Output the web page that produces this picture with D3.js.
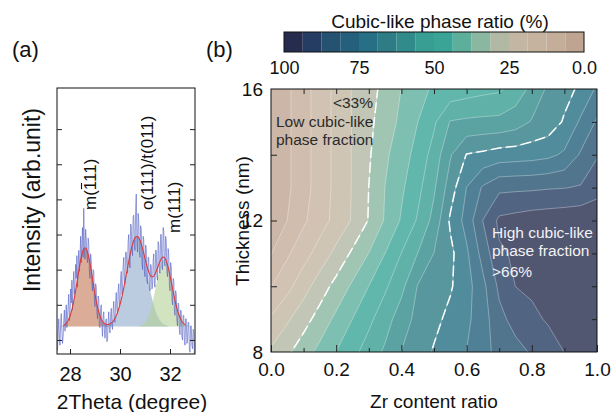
<!DOCTYPE html>
<html>
<head>
<meta charset="utf-8">
<script src="https://cdn.jsdelivr.net/npm/d3@7"></script>
<style>
  body { margin: 0; background: #fff; }
</style>
</head>
<body>
<svg id="chart" width="612" height="412"></svg>
<script>
// ---------------- data ----------------
// (a) XRD scan (2theta from 27.500 in 0.025 deg steps)
const theta0 = 27.5;
const thetaStep = 0.025;
const intensity = [
  0.70, 1.20, 1.60, 1.05, 0.85, 1.45, 1.75, 1.30, 0.90, 1.10,
  1.55, 1.85, 1.25, 1.60, 2.00, 1.35, 1.70, 1.95, 2.30, 1.55,
  1.75, 2.45, 2.05, 2.70, 1.85, 2.55, 2.95, 2.30, 2.55, 3.15,
  2.75, 3.40, 2.50, 3.05, 3.55, 2.95, 3.30, 3.95, 3.20, 3.75,
  4.20, 3.35, 4.75, 3.60, 3.30, 4.15, 3.85, 3.40, 3.20, 3.90,
  3.75, 2.95, 2.75, 3.45, 3.25, 2.60, 2.40, 3.00, 2.95, 2.15,
  1.95, 2.60, 2.50, 1.80, 1.60, 2.25, 2.15, 1.40, 1.35, 1.90,
  2.00, 1.45, 1.10, 1.65, 1.80, 1.30, 1.05, 1.50, 1.60, 0.95,
  1.00, 1.55, 1.80, 1.30, 1.20, 1.65, 1.90, 1.40, 1.30, 1.85,
  2.10, 1.60, 1.50, 2.05, 2.35, 1.85, 1.75, 2.40, 2.60, 2.00,
  2.05, 2.75, 2.95, 2.30, 2.35, 3.10, 3.35, 2.70, 2.60, 3.50,
  3.50, 3.05, 2.90, 3.80, 4.00, 3.25, 3.05, 4.30, 4.25, 3.55,
  3.40, 4.50, 4.55, 3.70, 3.55, 4.65, 5.15, 3.80, 3.50, 4.60,
  4.40, 3.55, 3.35, 4.25, 4.15, 3.25, 3.00, 3.95, 3.85, 2.95,
  2.80, 3.70, 3.60, 2.70, 2.60, 3.35, 3.35, 2.50, 2.40, 3.15,
  3.10, 2.45, 2.50, 3.25, 3.45, 2.60, 2.50, 3.55, 3.55, 2.80,
  2.70, 3.80, 3.70, 2.95, 2.90, 4.00, 4.00, 3.10, 3.00, 4.20,
  4.10, 3.20, 3.10, 3.95, 3.80, 2.95, 2.80, 3.60, 3.45, 2.60,
  2.40, 3.20, 3.05, 2.20, 2.00, 2.75, 2.70, 1.85, 1.70, 2.40,
  2.30, 1.55, 1.40, 2.05, 2.00, 1.30, 1.15, 1.85, 1.80, 1.10,
  1.00, 1.70, 1.70, 0.95, 0.85, 1.60, 1.60, 0.90, 0.95, 1.50,
  1.50, 0.75, 0.65, 1.40, 1.40, 0.85, 0.75, 1.30, 1.25, 0.60
];
// fitted peaks
const peakLabels = ["m(111)", "o(111)/t(011)", "m(111)"];
const peakCentre = [28.6, 30.67, 31.76];
const peakAmp = [2.24, 2.56, 1.91];
const peakWidth = [0.3, 0.4, 0.32];
const peakFill = ["#cf9275", "#8da8cc", "#b3d195"];
const fitBaseline = 1.38;
const fitRange = [27.75, 32.6];

// (b) cubic-like phase ratio (%) on a Zr ratio x thickness grid
const zrRatio = [0, 0.05, 0.1, 0.15, 0.2, 0.25, 0.3, 0.35, 0.4, 0.45, 0.5,
                 0.55, 0.6, 0.65, 0.7, 0.75, 0.8, 0.85, 0.9, 0.95, 1.0];
const thickness = [8, 9, 10, 11, 12, 13, 14, 15, 16];
const ratio8  = [26, 30.1, 34.7, 39.3, 43.8, 48.2, 52.7, 57.3, 62.6, 66.0, 69.3, 72.2, 75.1, 79.8, 82.6, 85.5, 88.1, 90.9, 93.8, 95.4, 97];
const ratio9  = [19.5, 24.1, 28.8, 33.8, 38.9, 43.8, 48.6, 53.5, 59.5, 64.3, 67.2, 70.3, 73.7, 78.4, 85.7, 89.7, 92.4, 94.4, 95.6, 96.8, 98];
const ratio10 = [12.3, 16.9, 22.5, 28.1, 33.3, 38.5, 43.8, 49.0, 54.5, 62.8, 65.4, 68.1, 72.5, 79.5, 88.8, 93.8, 94.8, 95.9, 96.9, 98.0, 99];
const ratio11 = [6, 11.6, 16.4, 21.3, 26.7, 32.3, 37.6, 43.8, 50.1, 56.3, 62.6, 67.2, 73.9, 83.6, 92.9, 94.5, 95.4, 96.3, 97.2, 98.1, 99];
const ratio12 = [1, 6.3, 11.5, 16.1, 20.7, 25.6, 31.6, 38.1, 44.4, 50.7, 58.3, 69.7, 77.3, 87.6, 95, 96, 97, 97.5, 98, 98.5, 99];
const ratio13 = [0, 5.1, 10.2, 15.3, 20.4, 25.4, 31.3, 37.6, 42.7, 48.2, 55.3, 65.6, 75.1, 82, 86, 86.3, 86.5, 87, 87.3, 88, 91];
const ratio14 = [0, 5.1, 10.2, 15.3, 20.4, 25.4, 30.5, 36.3, 41.1, 45.8, 52.5, 61.9, 69.0, 70.1, 71.5, 72, 72.5, 73.5, 76, 82, 87];
const ratio15 = [0, 5.1, 10.2, 15.3, 20.4, 25.3, 29.8, 34.3, 38.9, 43.7, 49.0, 56.6, 57.4, 57.8, 58.0, 59.5, 63, 65, 69.5, 76, 82];
const ratio16 = [0, 5.1, 10.2, 15.3, 20.4, 25.4, 29.1, 33.0, 37.6, 42.0, 44.5, 45.8, 47.0, 48.2, 49.0, 52.7, 57.8, 63.6, 66.5, 70.0, 76];
const cubicRatio = [ratio8, ratio9, ratio10, ratio11, ratio12, ratio13, ratio14, ratio15, ratio16];

const levelStep = 6.25;
// colour of each 6.25 % band, from 0 % up to 100 %
const levelColors = ["#bea491", "#c4ad99", "#c5b3a0", "#c3b6a2", "#b1b8a4", "#8ab7a0",
                     "#5daf9c", "#3aa597", "#389d92", "#328b8b", "#2e7d86", "#266f84",
                     "#24607c", "#245270", "#253d63", "#262c4e"];
const dashedLevels = [31.25, 68.75];
const barTicks = [100, 75, 50, 25, 0];
const zrTicks = [0, 0.2, 0.4, 0.6, 0.8, 1.0];
const thickTicks = [8, 12, 16];

// ---------------- drawing ----------------
const FONT = "'Liberation Sans', Arial, Helvetica, sans-serif";
const svg = d3.select("#chart").attr("font-family", FONT);

function tidy(g, size) {
  g.select(".domain").remove();
  g.selectAll("text").attr("font-size", size).attr("font-family", FONT).attr("fill", "#111");
  g.selectAll(".tick line").attr("stroke", "#222");
}

// ===== panel (a) =====
const xA = d3.scaleLinear().domain([27.48, 33.0]).range([57, 195]);
const yA = d3.scaleLinear().domain([0.6, 8.17]).range([354, 88]);

const gauss = (t, i) => peakAmp[i] * Math.exp(-0.5 * Math.pow((t - peakCentre[i]) / peakWidth[i], 2));
const aPanel = svg.append("g");

peakCentre.forEach((c, i) => {
  const ts = d3.range(c - 3.2 * peakWidth[i], c + 3.2 * peakWidth[i], 0.01);
  aPanel.append("path")
    .datum(ts)
    .attr("fill", peakFill[i])
    .attr("fill-opacity", i === 0 ? 0.75 : 0.6)
    .attr("d", d3.area()
      .x(t => xA(t))
      .y0(yA(fitBaseline))
      .y1(t => yA(fitBaseline + gauss(t, i))));
});

const scan = intensity.map((v, i) => [theta0 + i * thetaStep, v]);
aPanel.append("path")
  .datum(scan)
  .attr("fill", "none")
  .attr("stroke", "#4d5cc0")
  .attr("stroke-opacity", 0.85)
  .attr("stroke-width", 0.7)
  .attr("d", d3.line().x(d => xA(d[0])).y(d => yA(d[1])));

const fitTs = d3.range(fitRange[0], fitRange[1] + 0.001, 0.01);
aPanel.append("path")
  .datum(fitTs)
  .attr("fill", "none")
  .attr("stroke", "#d83a3a")
  .attr("stroke-width", 1.1)
  .attr("d", d3.line()
    .x(t => xA(t))
    .y(t => yA(fitBaseline + d3.sum(peakCentre, (c, i) => gauss(t, i)))));

aPanel.append("rect")
  .attr("x", 57).attr("y", 88).attr("width", 138).attr("height", 266)
  .attr("fill", "none").attr("stroke", "#111").attr("stroke-width", 1);

aPanel.append("g").attr("transform", "translate(0,354)")
  .call(d3.axisBottom(xA).tickValues([28, 30, 32]).tickFormat(d3.format("d"))
    .tickSizeInner(-5).tickSizeOuter(0).tickPadding(12.5))
  .call(g => tidy(g, 20));
aPanel.append("g").attr("transform", "translate(57,0)")
  .call(d3.axisLeft(yA).tickValues(d3.range(1, 8)).tickSizeInner(-5).tickSizeOuter(0).tickFormat(""))
  .call(g => tidy(g, 10));
aPanel.append("g").attr("transform", "translate(195,0)")
  .call(d3.axisRight(yA).tickValues(d3.range(1, 8)).tickSizeInner(-5).tickSizeOuter(0).tickFormat(""))
  .call(g => tidy(g, 10));

// peak labels (rotated); the first one gets a bar over its first "1"
const labelPos = [[96, 210], [153, 210], [180, 233]];
peakLabels.forEach((txt, i) => {
  const g = aPanel.append("g")
    .attr("transform", `translate(${labelPos[i][0]},${labelPos[i][1]}) rotate(-90)`);
  const t = g.append("text").attr("font-size", 17).attr("fill", "#111").text(txt);
  if (i === 0) {
    const x0 = t.node().getSubStringLength(0, 2);
    const x1 = t.node().getSubStringLength(0, 3);
    g.append("line").attr("x1", x0 + 1).attr("x2", x1 - 1)
      .attr("y1", -14.5).attr("y2", -14.5)
      .attr("stroke", "#111").attr("stroke-width", 1.1);
  }
});

aPanel.append("text").attr("transform", "translate(40,200) rotate(-90)")
  .attr("text-anchor", "middle").attr("font-size", 23).attr("fill", "#111")
  .text("Intensity (arb.unit)");
aPanel.append("text").attr("x", 132).attr("y", 409)
  .attr("text-anchor", "middle").attr("font-size", 21).attr("fill", "#111")
  .text("2Theta (degree)");
svg.append("text").attr("x", 12).attr("y", 57).attr("font-size", 22).attr("fill", "#111").text("(a)");
svg.append("text").attr("x", 206).attr("y", 57).attr("font-size", 22).attr("fill", "#111").text("(b)");

// ===== panel (b) =====
const B = {left: 271, right: 597, top: 89, bottom: 352};
const xB = d3.scaleLinear().domain([0, 1]).range([B.left, B.right]);
const yB = d3.scaleLinear().domain([8, 16]).range([B.bottom, B.top]);

svg.append("defs").append("clipPath").attr("id", "clipB")
  .append("rect").attr("x", B.left).attr("y", B.top)
  .attr("width", B.right - B.left).attr("height", B.bottom - B.top);

const nx = zrRatio.length, ny = thickness.length;
const thresholds = levelColors.map((c, k) => k * levelStep);
const bands = d3.contours().size([nx, ny]).thresholds(thresholds)(cubicRatio.flat());
const zStep = zrRatio[1] - zrRatio[0], tStep = thickness[1] - thickness[0];
const gridToPx = d3.geoTransform({
  point(px, py) {
    this.stream.point(xB(zrRatio[0] + (px - 0.5) * zStep), yB(thickness[0] + (py - 0.5) * tStep));
  }
});
const contourPath = d3.geoPath(gridToPx);
const washed = c => d3.interpolateRgb("#ffffff", c)(0.8);

const bPlot = svg.append("g").attr("clip-path", "url(#clipB)");
bPlot.selectAll("path.band")
  .data(bands)
  .join("path")
  .attr("class", "band")
  .attr("fill", (d, k) => washed(levelColors[k]))
  .attr("d", contourPath);
bPlot.selectAll("path.iso")
  .data(bands.filter(d => d.value > 0))
  .join("path")
  .attr("class", "iso")
  .attr("fill", "none")
  .attr("stroke", "#ffffff")
  .attr("stroke-opacity", 0.55)
  .attr("stroke-width", 0.6)
  .attr("d", contourPath);
bPlot.selectAll("path.dash")
  .data(bands.filter(d => dashedLevels.includes(d.value)))
  .join("path")
  .attr("class", "dash")
  .attr("fill", "none")
  .attr("stroke", "#ffffff")
  .attr("stroke-width", 1.5)
  .attr("stroke-dasharray", "11,4")
  .attr("d", contourPath);

// annotations
const noteLow = svg.append("g").attr("font-size", 15.5).attr("fill", "#2b2b2b");
noteLow.append("text").attr("x", 373).attr("y", 108).attr("text-anchor", "end").text("<33%");
noteLow.append("text").attr("x", 276).attr("y", 127).text("Low cubic-like");
noteLow.append("text").attr("x", 276).attr("y", 145).text("phase fraction");
const noteHigh = svg.append("g").attr("font-size", 15.5).attr("fill", "#f2f2f6");
noteHigh.append("text").attr("x", 492).attr("y", 238).text("High cubic-like");
noteHigh.append("text").attr("x", 492).attr("y", 256).text("phase fraction");
noteHigh.append("text").attr("x", 492).attr("y", 277).text(">66%");

// frame and ticks
svg.append("rect")
  .attr("x", B.left).attr("y", B.top).attr("width", B.right - B.left).attr("height", B.bottom - B.top)
  .attr("fill", "none").attr("stroke", "#111").attr("stroke-width", 1);

const zrMinor = d3.range(1, 10, 2).map(d => d / 10);
svg.append("g").attr("transform", `translate(0,${B.bottom})`)
  .call(d3.axisBottom(xB).tickValues(zrTicks).tickFormat(d3.format(".1f"))
    .tickSizeInner(-7).tickSizeOuter(0).tickPadding(11))
  .call(g => tidy(g, 19));
svg.append("g").attr("transform", `translate(0,${B.bottom})`)
  .call(d3.axisBottom(xB).tickValues(zrMinor).tickFormat("").tickSizeInner(-4).tickSizeOuter(0))
  .call(g => tidy(g, 10));
svg.append("g").attr("transform", `translate(0,${B.top})`)
  .call(d3.axisTop(xB).tickValues(d3.range(1, 10).map(d => d / 10)).tickFormat("")
    .tickSizeInner(-5).tickSizeOuter(0))
  .call(g => tidy(g, 10));
svg.append("g").attr("transform", `translate(${B.left},0)`)
  .call(d3.axisLeft(yB).tickValues(thickTicks).tickSize(0).tickPadding(8))
  .call(g => tidy(g, 19));
svg.append("g").attr("transform", `translate(${B.left},0)`)
  .call(d3.axisLeft(yB).tickValues([10, 12, 14]).tickFormat("").tickSizeInner(-6).tickSizeOuter(0))
  .call(g => tidy(g, 10));
svg.append("g").attr("transform", `translate(${B.right},0)`)
  .call(d3.axisRight(yB).tickValues(d3.range(9, 16)).tickFormat("").tickSizeInner(-5).tickSizeOuter(0))
  .call(g => tidy(g, 10));

svg.append("text").attr("x", 434).attr("y", 408).attr("text-anchor", "middle")
  .attr("font-size", 19).attr("fill", "#111").text("Zr content ratio");
svg.append("text").attr("transform", "translate(249,221) rotate(-90)").attr("text-anchor", "middle")
  .attr("font-size", 19).attr("fill", "#111").text("Thickness (nm)");

// ===== colour bar =====
const cbar = svg.append("g");
const xC = d3.scaleLinear().domain([100, 0]).range([284, 584]);
cbar.selectAll("rect.bin")
  .data(levelColors)
  .join("rect")
  .attr("class", "bin")
  .attr("x", (c, k) => xC((k + 1) * levelStep))
  .attr("width", (c, k) => xC(k * levelStep) - xC((k + 1) * levelStep))
  .attr("y", 32).attr("height", 20)
  .attr("fill", c => c);
cbar.append("rect").attr("x", 284).attr("y", 32).attr("width", 300).attr("height", 20)
  .attr("fill", "none").attr("stroke", "#111").attr("stroke-width", 1);
cbar.append("g").attr("transform", "translate(0,52)")
  .call(d3.axisBottom(xC).tickValues(barTicks).tickFormat(d => d === 0 ? "0.0" : d)
    .tickSize(0).tickPadding(9))
  .call(g => tidy(g, 18));
cbar.append("text").attr("x", 440).attr("y", 28).attr("text-anchor", "middle")
  .attr("font-size", 19).attr("fill", "#111").text("Cubic-like phase ratio (%)");
</script>
</body>
</html>
